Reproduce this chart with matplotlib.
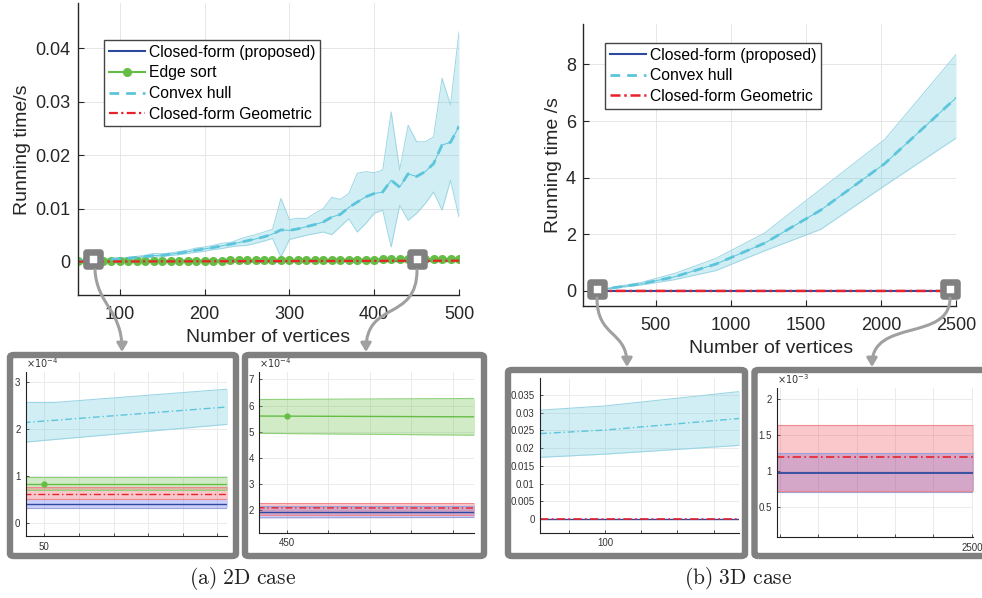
import matplotlib
matplotlib.use('Agg')
import matplotlib.pyplot as plt
import numpy as np
from matplotlib.patches import FancyBboxPatch, FancyArrowPatch
from matplotlib.path import Path
from matplotlib.markers import MarkerStyle
from matplotlib.ticker import FuncFormatter

plt.rcParams['font.family'] = ['Liberation Sans', 'DejaVu Sans']

# ---------------- data: 2D case (running time in ms) ----------------
x2d = list(range(50, 501, 10))
hull2d_mean = [0.21, 0.27, 0.35, 0.42, 0.50, 0.60, 0.70, 0.85, 1.00, 1.20,
               1.25, 1.45, 1.65, 1.90, 2.20, 2.45, 2.70, 3.00, 3.30, 3.60,
               3.95, 4.30, 4.70, 5.20, 6.00, 5.90, 6.20, 6.60, 7.00, 7.50,
               8.40, 8.90, 10.2, 11.2, 12.2, 12.8, 13.1, 15.3, 14.0, 16.5,
               16.0, 16.9, 18.4, 21.9, 22.4, 25.4]
hull2d_hi = [0.26, 0.32, 0.42, 0.50, 0.60, 0.75, 0.85, 1.05, 1.25, 1.60,
             1.50, 1.70, 1.95, 2.20, 2.60, 2.80, 3.10, 3.50, 3.60, 4.20,
             4.70, 5.10, 5.60, 6.10, 11.9, 7.90, 8.20, 8.10, 9.10, 10.0,
             12.1, 11.7, 12.8, 16.6, 16.9, 16.7, 17.2, 28.1, 17.2, 25.6,
             22.5, 22.5, 23.4, 34.4, 29.4, 43.1]
hull2d_lo = [0.17, 0.22, 0.28, 0.34, 0.40, 0.45, 0.55, 0.65, 0.75, 0.85,
             1.00, 1.20, 1.35, 1.60, 1.80, 2.00, 2.30, 2.50, 2.80, 3.00,
             3.10, 3.50, 3.90, 4.40, 0.90, 4.20, 4.60, 5.00, 5.30, 5.60,
             5.10, 6.60, 8.10, 5.60, 7.20, 9.10, 9.70, 2.80, 10.6, 7.80,
             9.10, 10.9, 13.1, 9.70, 15.3, 8.40]
edge2d_mean = [0.08, 0.09, 0.10, 0.11, 0.12, 0.13, 0.14, 0.15, 0.17, 0.18,
               0.19, 0.20, 0.21, 0.22, 0.23, 0.24, 0.25, 0.26, 0.27, 0.28,
               0.29, 0.30, 0.31, 0.32, 0.33, 0.34, 0.35, 0.36, 0.37, 0.38,
               0.40, 0.41, 0.42, 0.43, 0.44, 0.45, 0.47, 0.48, 0.50, 0.52,
               0.56, 0.55, 0.56, 0.57, 0.58, 0.60]
geo2d_mean = [0.063, 0.066, 0.070, 0.073, 0.077, 0.080, 0.084, 0.088, 0.092, 0.095,
              0.099, 0.100, 0.105, 0.110, 0.113, 0.116, 0.120, 0.123, 0.127, 0.130,
              0.134, 0.138, 0.141, 0.145, 0.149, 0.152, 0.156, 0.160, 0.163, 0.167,
              0.170, 0.174, 0.178, 0.182, 0.185, 0.189, 0.193, 0.197, 0.200, 0.204,
              0.210, 0.212, 0.216, 0.220, 0.224, 0.228]
prop2d_mean = [0.040, 0.044, 0.048, 0.051, 0.055, 0.059, 0.063, 0.067, 0.070, 0.074,
               0.078, 0.082, 0.085, 0.089, 0.093, 0.097, 0.100, 0.104, 0.108, 0.112,
               0.115, 0.119, 0.123, 0.127, 0.130, 0.134, 0.138, 0.142, 0.145, 0.149,
               0.153, 0.157, 0.160, 0.164, 0.168, 0.172, 0.175, 0.179, 0.183, 0.187,
               0.193, 0.195, 0.199, 0.202, 0.206, 0.210]

# ---------------- data: 3D case (running time in s) ----------------
x3d = [100, 225, 400, 625, 900, 1225, 1600, 2025, 2500]
hull3d_mean = [0.025, 0.12, 0.25, 0.50, 0.95, 1.69, 2.86, 4.50, 6.82]
hull3d_hi = [0.032, 0.14, 0.30, 0.62, 1.15, 2.05, 3.60, 5.35, 8.35]
hull3d_lo = [0.018, 0.10, 0.21, 0.40, 0.72, 1.42, 2.18, 3.72, 5.40]
prop3d_mean = [0.0009, 0.00092, 0.00094, 0.00095, 0.00096, 0.00097, 0.00097, 0.00098, 0.00098]
geo3d_mean = [0.0011, 0.00112, 0.00114, 0.00115, 0.00116, 0.00117, 0.00118, 0.00119, 0.0012]

# ---------------- zoomed views (insets) ----------------
# inset 1: 2D near 50 vertices (units 1e-4 s)
z1_x = [49.4, 50.3, 55.4]
z1_hull_mean = [2.14, 2.19, 2.48]
z1_hull_hi = [2.57, 2.57, 2.86]
z1_hull_lo = [1.72, 1.78, 2.11]
z1_edge_mean = [0.82, 0.82, 0.82]
z1_edge_hi = [0.98, 0.98, 0.98]
z1_edge_lo = [0.70, 0.70, 0.70]
z1_geo_mean = [0.627, 0.627, 0.627]
z1_geo_hi = [0.77, 0.77, 0.77]
z1_geo_lo = [0.50, 0.50, 0.50]
z1_prop_mean = [0.41, 0.41, 0.41]
z1_prop_hi = [0.50, 0.50, 0.50]
z1_prop_lo = [0.31, 0.31, 0.31]
z1_marker_x = [50]
z1_marker_y = [0.82]

# inset 2: 2D near 450 vertices (units 1e-4 s)
z2_x = [449.3, 454.6]
z2_edge_mean = [5.60, 5.57]
z2_edge_hi = [6.23, 6.27]
z2_edge_lo = [4.94, 4.87]
z2_geo_mean = [2.10, 2.09]
z2_geo_hi = [2.30, 2.30]
z2_geo_lo = [1.83, 1.83]
z2_prop_mean = [1.94, 1.94]
z2_prop_hi = [2.18, 2.18]
z2_prop_lo = [1.72, 1.73]
z2_marker_x = [450]
z2_marker_y = [5.60]

# inset 3: 3D near 100 vertices (s)
z3_x = [82, 100, 137.5]
z3_hull_mean = [0.0241, 0.0251, 0.0284]
z3_hull_hi = [0.0307, 0.0319, 0.0360]
z3_hull_lo = [0.0174, 0.0183, 0.0208]
z3_geo_mean = [0.0, 0.0, 0.0]
z3_prop_mean = [0.0, 0.0, 0.0]

# inset 4: 3D near 2500 vertices (units 1e-3 s)
z4_x = [2494.9, 2500.1]
z4_geo_mean = [1.20, 1.20]
z4_geo_hi = [1.64, 1.64]
z4_geo_lo = [0.73, 0.73]
z4_prop_mean = [0.98, 0.98]
z4_prop_hi = [1.25, 1.25]
z4_prop_lo = [0.71, 0.71]

# ---------------- styling ----------------
BLUE = '#2E4A9F'
GREEN = '#66BD45'
CYAN = '#5CC5DB'
CYAN_EDGE = '#9CD6E4'
RED = '#E8222A'
BLUE_FILL = '#2D46F0'
RED_FILL = '#EE3B45'
GRID = '#E6E6E6'
DARK = '#262626'
BOXGRAY = '#808080'
ARROWGRAY = '#A0A0A0'

W, H = 982, 598
fig = plt.figure(figsize=(W / 100, H / 100), dpi=100)


def rect(l, t, r, b):
    return [l / W, 1 - b / H, (r - l) / W, (b - t) / H]


def fp(x, y):
    return (x / W, 1 - y / H)


gfmt = FuncFormatter(lambda v, p: '%g' % v)


def scaled_fmt(s):
    return FuncFormatter(lambda v, p: '%g' % round(v / s, 6))


def style_main(ax):
    for s in ['top', 'right']:
        ax.spines[s].set_visible(False)
    for s in ['left', 'bottom']:
        ax.spines[s].set_linewidth(1.0)
        ax.spines[s].set_color(DARK)
    ax.tick_params(direction='in', length=4, width=0.8, labelsize=13, colors=DARK)
    ax.tick_params(axis='x', pad=8)
    ax.tick_params(axis='y', pad=5)
    ax.grid(True, color=GRID, lw=0.7)
    ax.set_axisbelow(True)


def style_inset(ax):
    for s in ['top', 'right']:
        ax.spines[s].set_visible(False)
    for s in ['left', 'bottom']:
        ax.spines[s].set_linewidth(0.8)
        ax.spines[s].set_color('#222222')
    ax.tick_params(direction='in', length=2.5, width=0.6, labelsize=7, colors='#333333', pad=4)
    ax.grid(True, color='#E8E8E8', lw=0.6)
    ax.set_axisbelow(True)


def exp_label(ax, txt):
    ax.text(0.0, 1.015, txt, transform=ax.transAxes, fontsize=7, color='#333333',
            ha='left', va='bottom')


def band(ax, x, lo, hi, color, edge, alpha, scale=1.0, lw=0.8):
    lo = np.asarray(lo) * scale
    hi = np.asarray(hi) * scale
    ax.fill_between(x, lo, hi, color=color, alpha=alpha, lw=0)
    ax.plot(x, lo, color=edge, lw=lw)
    ax.plot(x, hi, color=edge, lw=lw)


sq_marker = MarkerStyle('s', joinstyle='round')


def zoom_square(ax, x, y):
    ax.plot([x], [y], marker=sq_marker, ms=10.4, mfc='white', mec=BOXGRAY, mew=4.7,
            ls='none', zorder=20, clip_on=False)


LEG_KW = dict(loc='upper left', borderaxespad=0, fontsize=11.3, frameon=True,
              fancybox=False, framealpha=1, edgecolor='#444444', handlelength=2.3,
              handletextpad=0.25, labelspacing=0.36, borderpad=0.3, numpoints=1)

# ---------------- main axes (a) ----------------
axA = fig.add_axes(rect(77.5, 3, 459, 295))
style_main(axA)
ms = 1e-3
band(axA, x2d, hull2d_lo, hull2d_hi, CYAN, CYAN_EDGE, 0.28, scale=ms, lw=0.7)
axA.plot(x2d, np.array(hull2d_mean) * ms, color=CYAN, lw=0.7)
axA.plot(x2d, np.array(prop2d_mean) * ms, color=BLUE, lw=1.5, label='Closed-form (proposed)')
axA.plot(x2d, np.array(edge2d_mean) * ms, color=GREEN, lw=1.5, marker='o', ms=5.5,
         label='Edge sort')
axA.plot(x2d, np.array(hull2d_mean) * ms, color=CYAN, lw=2.0, dashes=(3.5, 2.5),
         label='Convex hull')
axA.plot(x2d, np.array(geo2d_mean) * ms, color=RED, lw=1.6, dashes=(4, 1.5, 1, 1.5),
         label='Closed-form Geometric')
axA.set_xlim(50, 500)
axA.set_ylim(-0.0062, 0.0485)
axA.set_xticks([100, 200, 300, 400, 500])
axA.set_yticks([0, 0.01, 0.02, 0.03, 0.04])
axA.yaxis.set_major_formatter(gfmt)
axA.set_xlabel('Number of vertices', fontsize=14, color=DARK)
axA.set_ylabel('Running time/s', fontsize=14, color=DARK)
axA.xaxis.set_label_coords(0.5, -0.147)
axA.xaxis.label.set_va('center')
axA.yaxis.set_label_coords(-0.145, 0.497)
axA.yaxis.label.set_va('center')
legA = axA.legend(bbox_to_anchor=(0.0695, 0.873), **LEG_KW)
legA.get_frame().set_linewidth(1.0)
zoom_square(axA, 68, 0.0006)
zoom_square(axA, 450, 0.0006)

# ---------------- main axes (b) ----------------
axB = fig.add_axes(rect(583, 24, 956, 306))
style_main(axB)
band(axB, x3d, hull3d_lo, hull3d_hi, CYAN, CYAN_EDGE, 0.28, lw=0.7)
axB.plot(x3d, hull3d_mean, color=CYAN, lw=0.7)
axB.plot(x3d, prop3d_mean, color=BLUE, lw=1.5, label='Closed-form (proposed)')
axB.plot(x3d, hull3d_mean, color=CYAN, lw=2.0, dashes=(3.5, 2.5), label='Convex hull')
axB.plot(x3d, geo3d_mean, color=RED, lw=1.8, dashes=(4, 1.5, 1, 1.5),
         label='Closed-form Geometric')
axB.set_xlim(15, 2500)
axB.set_ylim(-0.53, 9.43)
axB.set_xticks([500, 1000, 1500, 2000, 2500])
axB.set_yticks([0, 2, 4, 6, 8])
axB.yaxis.set_major_formatter(gfmt)
axB.set_xlabel('Number of vertices', fontsize=14, color=DARK)
axB.set_ylabel('Running time /s', fontsize=14, color=DARK)
axB.xaxis.set_label_coords(0.503, -0.149)
axB.xaxis.label.set_va('center')
axB.yaxis.set_label_coords(-0.08, 0.5)
axB.yaxis.label.set_va('center')
legB = axB.legend(bbox_to_anchor=(0.059, 0.933), **LEG_KW)
legB.get_frame().set_linewidth(1.0)
zoom_square(axB, 109, 0.07)
zoom_square(axB, 2462, 0.07)

# ---------------- inset 1 ----------------
ax1 = fig.add_axes(rect(26, 372, 227, 536))
style_inset(ax1)
e4 = 1e-4
band(ax1, z1_x, z1_prop_lo, z1_prop_hi, BLUE_FILL, '#9AA3DA', 0.25, scale=e4)
band(ax1, z1_x, z1_edge_lo, z1_edge_hi, GREEN, '#8ED17A', 0.3, scale=e4)
band(ax1, z1_x, z1_geo_lo, z1_geo_hi, RED_FILL, '#EE8A8E', 0.28, scale=e4)
band(ax1, z1_x, z1_hull_lo, z1_hull_hi, CYAN, CYAN_EDGE, 0.28, scale=e4)
ax1.plot(z1_x, np.array(z1_prop_mean) * e4, color=BLUE, lw=1.0)
ax1.plot(z1_x, np.array(z1_edge_mean) * e4, color=GREEN, lw=1.0)
ax1.plot(z1_marker_x, np.array(z1_marker_y) * e4, color=GREEN, marker='o', ms=3.5, ls='none')
ax1.plot(z1_x, np.array(z1_hull_mean) * e4, color=CYAN, lw=1.0, dashes=(5, 2, 1, 2))
ax1.plot(z1_x, np.array(z1_geo_mean) * e4, color=RED, lw=1.0, dashes=(5, 2, 1, 2))
ax1.set_xlim(49.47, 55.28)
ax1.set_ylim(-0.28e-4, 3.22e-4)
ax1.set_xticks([50, 51, 52, 53, 54, 55])
ax1.set_xticklabels(['50', '', '', '', '', ''])
ax1.set_yticks([0, 1e-4, 2e-4, 3e-4])
ax1.yaxis.set_major_formatter(scaled_fmt(e4))
exp_label(ax1, r'$\times10^{-4}$')

# ---------------- inset 2 ----------------
ax2 = fig.add_axes(rect(259.3, 372, 474.3, 532.7))
style_inset(ax2)
band(ax2, z2_x, z2_prop_lo, z2_prop_hi, BLUE_FILL, '#9AA3DA', 0.25, scale=e4)
band(ax2, z2_x, z2_geo_lo, z2_geo_hi, RED_FILL, '#EE8A8E', 0.28, scale=e4)
band(ax2, z2_x, z2_edge_lo, z2_edge_hi, GREEN, '#8ED17A', 0.3, scale=e4)
ax2.plot(z2_x, np.array(z2_prop_mean) * e4, color=BLUE, lw=1.0)
ax2.plot(z2_x, np.array(z2_edge_mean) * e4, color=GREEN, lw=1.0)
ax2.plot(z2_marker_x, np.array(z2_marker_y) * e4, color=GREEN, marker='o', ms=3.5, ls='none')
ax2.plot(z2_x, np.array(z2_geo_mean) * e4, color=RED, lw=1.0, dashes=(5, 2, 1, 2))
ax2.set_xlim(449.34, 454.52)
ax2.set_ylim(1.15e-4, 7.28e-4)
ax2.set_xticks([450, 451, 452, 453, 454])
ax2.set_xticklabels(['450', '', '', '', ''])
ax2.set_yticks([2e-4, 3e-4, 4e-4, 5e-4, 6e-4, 7e-4])
ax2.yaxis.set_major_formatter(scaled_fmt(e4))
exp_label(ax2, r'$\times10^{-4}$')

# ---------------- inset 3 ----------------
ax3 = fig.add_axes(rect(540.3, 378.3, 739.3, 532.7))
style_inset(ax3)
band(ax3, z3_x, z3_hull_lo, z3_hull_hi, CYAN, CYAN_EDGE, 0.28)
ax3.plot(z3_x, z3_prop_mean, color=BLUE, lw=1.0)
ax3.plot(z3_x, z3_hull_mean, color=CYAN, lw=1.0, dashes=(5, 2, 1, 2))
ax3.plot(z3_x, z3_geo_mean, color=RED, lw=1.2, dashes=(5, 2, 1, 2))
ax3.set_xlim(82.1, 137.1)
ax3.set_ylim(-0.00387, 0.0397)
ax3.set_xticks([90, 100, 110, 120, 130])
ax3.set_xticklabels(['', '100', '', '', ''])
ax3.set_yticks([0, 0.005, 0.01, 0.015, 0.02, 0.025, 0.03, 0.035])
ax3.yaxis.set_major_formatter(gfmt)

# ---------------- inset 4 ----------------
ax4 = fig.add_axes(rect(777.3, 388.3, 972.7, 537.3))
style_inset(ax4)
e3 = 1e-3
band(ax4, z4_x, z4_prop_lo, z4_prop_hi, BLUE_FILL, '#9AA3DA', 0.25, scale=e3)
band(ax4, z4_x, z4_geo_lo, z4_geo_hi, RED_FILL, '#EE8A8E', 0.28, scale=e3)
ax4.plot(z4_x, np.array(z4_prop_mean) * e3, color=BLUE, lw=1.3)
ax4.plot(z4_x, np.array(z4_geo_mean) * e3, color=RED, lw=1.2, dashes=(5, 2, 1, 2))
ax4.set_xlim(2494.94, 2500.02)
ax4.set_ylim(0.083e-3, 2.15e-3)
ax4.set_xticks([2495, 2496, 2497, 2498, 2499, 2500])
ax4.set_xticklabels(['', '', '', '', '', '2500'])
ax4.set_yticks([0.5e-3, 1e-3, 1.5e-3, 2e-3])
ax4.yaxis.set_major_formatter(scaled_fmt(e3))
exp_label(ax4, r'$\times10^{-3}$')

# ---------------- inset frames ----------------
frames = [(10, 355, 236, 556), (245, 355, 484, 556), (508, 370, 745, 556), (754.5, 370, 1000, 556)]
for (l, t, r, b) in frames:
    x0, y0 = fp(l, b)
    fb = FancyBboxPatch((x0, y0), (r - l) / W, (b - t) / H,
                        boxstyle='round,pad=0,rounding_size=0.004',
                        transform=fig.transFigure, fc='none', ec=BOXGRAY, lw=4.6,
                        zorder=10)
    fig.add_artist(fb)

# ---------------- curved arrows ----------------
arrow_paths = [
    [(95, 270), (97, 305), (122, 310), (122, 352)],
    [(417, 270), (417, 322), (366, 300), (366, 352)],
    [(597, 298), (597, 338), (627, 330), (627, 367)],
    [(950, 298), (950, 342), (872, 318), (872, 367)],
]
for pts in arrow_paths:
    verts = [fp(*p) for p in pts]
    path = Path(verts, [Path.MOVETO, Path.CURVE4, Path.CURVE4, Path.CURVE4])
    arr = FancyArrowPatch(path=path, transform=fig.transFigure,
                          arrowstyle='-|>,head_length=5,head_width=3',
                          color=ARROWGRAY, lw=2.2, mutation_scale=1, zorder=11)
    fig.add_artist(arr)

# ---------------- captions ----------------
fig.text(243 / W, 1 - 578 / H, r'$\mathrm{(a)\ 2D\ case}$', math_fontfamily='cm',
         fontsize=15.5, ha='center', va='center', color='#222222')
fig.text(738 / W, 1 - 578 / H, r'$\mathrm{(b)\ 3D\ case}$', math_fontfamily='cm',
         fontsize=15.5, ha='center', va='center', color='#222222')

fig.savefig('out.png', dpi=100)
